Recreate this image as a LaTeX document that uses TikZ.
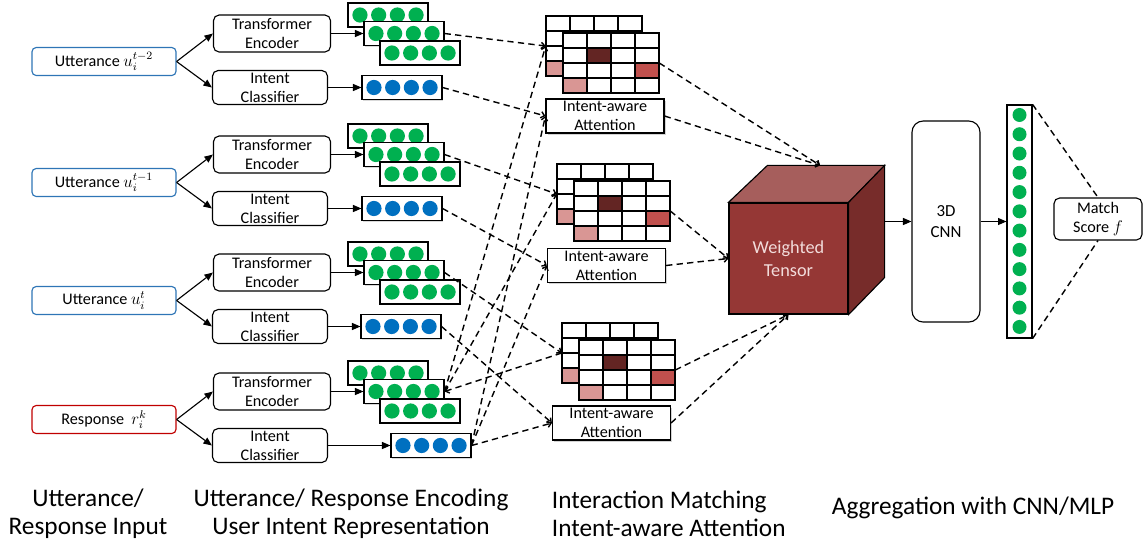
\documentclass[tikz,border=0pt]{standalone}
\usepackage{fontspec}
\setmainfont{Carlito}
\usetikzlibrary{arrows.meta,shadows,calc}
\definecolor{inblue}{RGB}{46,117,182}
\definecolor{resred}{RGB}{192,0,0}
\definecolor{beadgreen}{RGB}{0,176,80}
\definecolor{beadblue}{RGB}{0,112,192}
\definecolor{cellpink}{RGB}{217,150,148}
\definecolor{cellred}{RGB}{192,80,77}
\definecolor{celldark}{RGB}{99,37,35}
\definecolor{tensorfront}{RGB}{149,55,53}
\definecolor{tensortop}{RGB}{166,94,92}
\definecolor{tensorside}{RGB}{119,44,42}
\definecolor{tensortext}{RGB}{242,220,219}
% one attention map: back grid (mb#1) and front grid (mf#1), #2/#3 = top left of back grid
\newcommand{\attmap}[3]{%
  \foreach \dx/\s in {0/b,17/f}{
    \node[mapnode] (m\s#1) at ({#2+\dx+48},{#3+\dx+30}) {};
    \foreach \c in {0,...,3} \foreach \r in {0,...,3}
      \draw[thick] ({#2+\dx+24*\c},{#3+\dx+15*\r}) rectangle ++(24,15);
    \filldraw[thick,fill=celldark] ({#2+\dx+24},{#3+\dx+15}) rectangle ++(24,15);
    \filldraw[thick,fill=cellred] ({#2+\dx+72},{#3+\dx+30}) rectangle ++(24,15);
    \filldraw[thick,fill=cellpink] ({#2+\dx},{#3+\dx+45}) rectangle ++(24,15);
  }}
\begin{document}
\begin{tikzpicture}[x=0.025cm, y=-0.025cm,
  every node/.style={font=\fontsize{11.5}{13.5}\selectfont},
  inbox/.style={draw=#1, thick, rounded corners=3pt, minimum width=3.6cm, minimum height=0.7cm, inner sep=0pt, font=\fontsize{11.5}{13}\selectfont},
  tebox/.style={draw, thick, rounded corners=4pt, minimum width=2.925cm, minimum height=0.925cm, inner sep=0pt, align=center},
  icbox/.style={draw, thick, rounded corners=4pt, minimum width=2.875cm, minimum height=0.85cm, inner sep=0pt, align=center},
  beads/.style={draw, thick, fill=white, minimum width=2cm, minimum height=0.6cm, inner sep=0pt,
    drop shadow={shadow xshift=1pt, shadow yshift=-1pt, opacity=0.3},
    path picture={\foreach \i in {-1.5,-0.5,0.5,1.5}
      \fill[#1] ($(path picture bounding box.center)+(\i*18.7,0)$) circle (0.19cm);}},
  mapnode/.style={fill=white, minimum width=2.4cm, minimum height=1.5cm, inner sep=0pt},
  attbox/.style={draw, thick, fill=white, minimum width=2.95cm, minimum height=0.85cm, inner sep=0pt, align=center,
    drop shadow={shadow xshift=1.2pt, shadow yshift=-1.2pt, opacity=0.35}},
  tensornode/.style={draw, thick, fill=tensorfront, text=tensortext, minimum width=2.975cm, minimum height=2.775cm,
    align=center, font=\fontsize{13}{16}\selectfont},
  cnnbox/.style={draw, thick, rounded corners=8pt, minimum width=1.7cm, minimum height=5.025cm, align=center, font=\fontsize{12}{15}\selectfont},
  colnode/.style={draw, thick, fill=white, minimum width=0.625cm, minimum height=5.825cm, inner sep=0pt,
    drop shadow={shadow xshift=1pt, shadow yshift=-1pt, opacity=0.3},
    path picture={\foreach \i in {0,...,11}
      \fill[beadgreen] ($(path picture bounding box.north)+(0,10+19.27*\i)$) circle (0.175cm);}},
  matchbox/.style={draw, thick, rounded corners=4pt, minimum width=2.2cm, minimum height=1.05cm, inner sep=0pt, align=center},
  captext/.style={font=\fontsize{18}{20}\selectfont},
  arr/.style={thick, -{Triangle[length=6pt,width=5pt]}},
  dashline/.style={line width=1pt, dash pattern=on 4.5pt off 3pt, -{Straight Barb[length=2.5pt,width=4.5pt]}}]
\useasboundingbox (0,0) rectangle (1147,548);
% inputs, encoders, intent classifiers and their outputs
\foreach \g/\y/\bx/\col/\txt in {1/33.5/402/inblue/{Utterance $u_i^{t-2}$},
    2/154.5/402/inblue/{Utterance $u_i^{t-1}$}, 3/272.5/401/inblue/{Utterance $u_i^{t}$},
    4/391.5/431/resred/{Response\ \ $r_i^k$}}{
  \node[inbox=\col] (in\g) at (104,\y+28) {\txt};
  \node[tebox] (te\g) at (272,\y) {Transformer\\Encoder};
  \node[icbox] (ic\g) at (270,\y+54) {Intent\\Classifier};
  \node[beads=beadgreen] (ga\g) at (388,\y-18.5) {};
  \node[beads=beadgreen] (gb\g) at (404,\y) {};
  \node[beads=beadgreen] (gc\g) at (420,\y+19.5) {};
  \node[beads=beadblue] (bl\g) at (\bx,\y+54) {};
  \draw[arr] (in\g.east) -- (te\g.west);
  \draw[arr] (in\g.east) -- (ic\g.west);
  \draw[arr] (te\g.east) -- (gb\g.west);
  \draw[arr] (ic\g.east) -- (bl\g.west);
}
% attention maps and intent-aware attention
\attmap{1}{546}{16}
\attmap{2}{557}{164}
\attmap{3}{562}{323}
\node[attbox] (att1) at (605,116) {Intent-aware\\Attention};
\node[attbox] (att2) at (606.5,265.5) {Intent-aware\\Attention};
\node[attbox] (att3) at (611.5,423) {Intent-aware\\Attention};
% weighted tensor
\node[tensornode] (tensor) at (788.5,258.5) {Weighted\\Tensor};
\path (tensor.north west) ++(39,-37) coordinate (tnw)
      (tensor.north east) ++(36,-37) coordinate (tne)
      (tensor.south east) ++(36,-37) coordinate (tse);
\filldraw[thick, fill=tensortop] (tensor.north west) -- (tnw) -- (tne) -- (tensor.north east) -- cycle;
\filldraw[thick, fill=tensorside] (tensor.north east) -- (tne) -- (tse) -- (tensor.south east) -- cycle;
\coordinate (ttop) at ($(tnw)!0.45!(tne)$);
\coordinate (tmid) at ($(tne)!0.5!(tse)$);
% matching connectors
\foreach \g in {1,2,3}{
  \draw[dashline] (gb\g.east) -- (mb\g.west);
  \draw[dashline] (bl\g.east) -- (att\g.west);
  \draw[dashline] (bl4.east) -- (att\g.west);
}
\draw[dashline] (gb4.east) -- (mb1.west);
\draw[dashline] (gb4.east) -- (mb2.west);
\draw[dashline] (mb3.west) -- (gb4.east);
\draw[dashline] (mf1.east) -- (ttop);
\draw[dashline] (att1.east) -- (ttop);
\draw[dashline] (mf2.east) -- (tensor.west);
\draw[dashline] (att2.east) -- (tensor.west);
\draw[dashline] (mf3.east) -- (tensor.south);
\draw[dashline] (att3.east) -- (tensor.south);
% aggregation
\node[cnnbox] (cnn) at (946,221.5) {3D\\CNN};
\node[colnode] (vec) at (1019.5,221.5) {};
\node[matchbox] (match) at (1098,219) {Match\\Score $f$};
\draw[arr] (tmid) -- (cnn.west);
\draw[arr] (cnn.east) -- (vec.west);
\draw[line width=1pt, dash pattern=on 4.5pt off 3pt] (vec.north east) -- (match.north);
\draw[line width=1pt, dash pattern=on 4.5pt off 3pt] (vec.south east) -- (match.south);
% stage captions
\node[captext, align=center] (cap1) at (88,514) {Utterance/\\Response Input};
\node[captext, align=center] (cap2) at (351,514) {Utterance/ Response Encoding\\User Intent Representation};
\node[captext, align=left, anchor=west] (cap3) at (547,514) {Interaction Matching\\Intent-aware Attention};
\node[captext] (cap4) at (973,508) {Aggregation with CNN/MLP};
\end{tikzpicture}
\end{document}
